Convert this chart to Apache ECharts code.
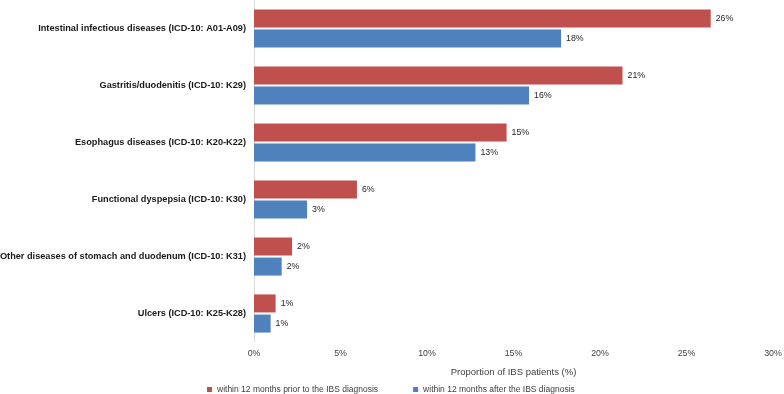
<!DOCTYPE html>
<html>
<head>
<meta charset="utf-8">
<script src="https://cdn.jsdelivr.net/npm/echarts@6/dist/echarts.min.js"></script>
<style>
html,body{margin:0;padding:0;background:#fff;}
#chart{width:784px;height:394px;}
</style>
</head>
<body>
<div id="chart"></div>
<script>
var categories = [
  'Intestinal infectious diseases (ICD-10: A01-A09)',
  'Gastritis/duodenitis (ICD-10: K29)',
  'Esophagus diseases (ICD-10: K20-K22)',
  'Functional dyspepsia (ICD-10: K30)',
  'Other diseases of stomach and duodenum (ICD-10: K31)',
  'Ulcers (ICD-10: K25-K28)'
];
var seriesNames = ['within 12 months prior to the IBS diagnosis', 'within 12 months after the IBS diagnosis'];
var priorValues = [26.4, 21.3, 14.6, 5.95, 2.2, 1.25];
var afterValues = [17.75, 15.9, 12.8, 3.07, 1.6, 0.96];
var xTicks = [0, 5, 10, 15, 20, 25, 30];

var FONT = 'Liberation Sans, Arial, sans-serif';
var chart = echarts.init(document.getElementById('chart'));
var labelOpt = {
  show: true,
  position: 'right',
  distance: 5,
  color: '#262626',
  fontFamily: FONT,
  fontSize: 8.8,
  formatter: function (p) { return Math.round(p.value) + '%'; }
};
chart.setOption({
  animation: false,
  textStyle: { fontFamily: FONT },
  grid: { left: 254, right: 11, top: 0, bottom: 52, containLabel: false, outerBoundsMode: 'none' },
  legend: {
    data: seriesNames,
    top: 380,
    left: 202,
    itemWidth: 5,
    itemHeight: 5,
    itemGap: 35,
    icon: 'rect',
    textStyle: { fontSize: 8.5, color: '#404040', fontFamily: FONT }
  },
  xAxis: {
    type: 'value',
    min: xTicks[0],
    max: xTicks[xTicks.length - 1],
    interval: 5,
    name: 'Proportion of IBS patients (%)',
    nameLocation: 'middle',
    nameGap: 25,
    nameTextStyle: { fontSize: 9.5, color: '#404040', fontFamily: FONT },
    axisLine: { show: false },
    axisTick: { show: false },
    splitLine: { show: false },
    axisLabel: { fontSize: 8.8, color: '#404040', margin: 7, fontFamily: FONT, formatter: '{value}%' }
  },
  yAxis: {
    type: 'category',
    data: categories,
    inverse: true,
    axisLine: { show: true, lineStyle: { color: '#d9d9d9', width: 1 } },
    axisTick: { show: false },
    axisLabel: { fontSize: 9.2, fontWeight: 'bold', color: '#1a1a1a', margin: 8, fontFamily: FONT }
  },
  series: [
    {
      name: seriesNames[0],
      type: 'bar',
      data: priorValues,
      barWidth: 18,
      barGap: '12%',
      itemStyle: { color: '#c0504d' },
      label: labelOpt
    },
    {
      name: seriesNames[1],
      type: 'bar',
      data: afterValues,
      barWidth: 18,
      barGap: '12%',
      itemStyle: { color: '#4f81bd' },
      label: labelOpt
    }
  ]
});
</script>
</body>
</html>
